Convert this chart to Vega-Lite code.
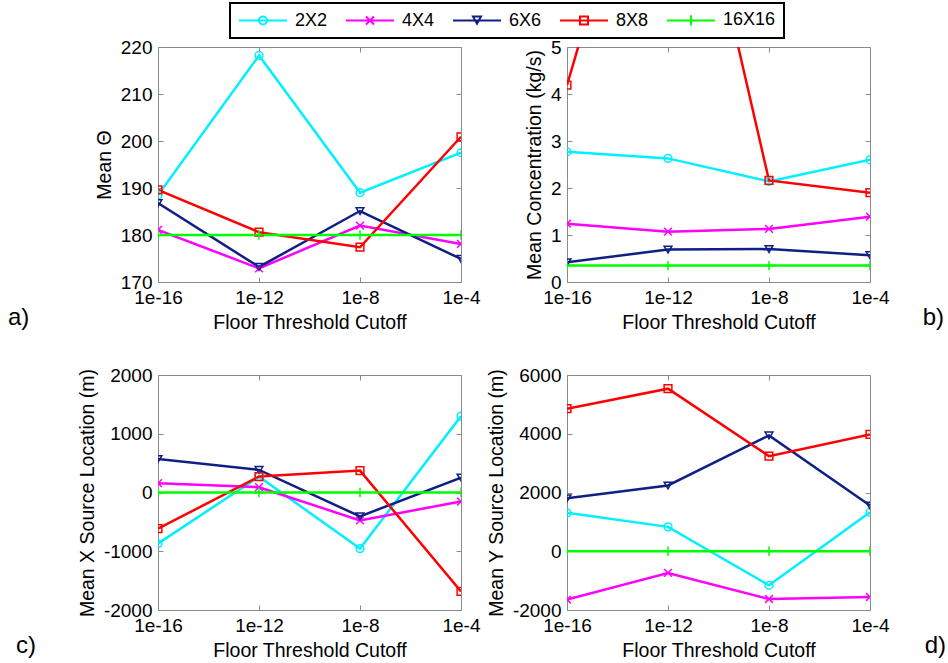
{
  "$schema": "https://vega.github.io/schema/vega-lite/v6.json",
  "background": "white",
  "padding": {"left": 7, "top": 2, "right": 3, "bottom": 10},
  "datasets": {
    "a": [
      {"series": "2X2", "cutoff": "1e-16", "value": 188.5},
      {"series": "2X2", "cutoff": "1e-12", "value": 218.2},
      {"series": "2X2", "cutoff": "1e-8", "value": 189.0},
      {"series": "2X2", "cutoff": "1e-4", "value": 197.5},
      {"series": "4X4", "cutoff": "1e-16", "value": 181.1},
      {"series": "4X4", "cutoff": "1e-12", "value": 172.9},
      {"series": "4X4", "cutoff": "1e-8", "value": 182.0},
      {"series": "4X4", "cutoff": "1e-4", "value": 178.1},
      {"series": "6X6", "cutoff": "1e-16", "value": 186.8},
      {"series": "6X6", "cutoff": "1e-12", "value": 173.2},
      {"series": "6X6", "cutoff": "1e-8", "value": 185.1},
      {"series": "6X6", "cutoff": "1e-4", "value": 174.9},
      {"series": "8X8", "cutoff": "1e-16", "value": 189.6},
      {"series": "8X8", "cutoff": "1e-12", "value": 180.6},
      {"series": "8X8", "cutoff": "1e-8", "value": 177.4},
      {"series": "8X8", "cutoff": "1e-4", "value": 200.9},
      {"series": "16X16", "cutoff": "1e-16", "value": 180},
      {"series": "16X16", "cutoff": "1e-12", "value": 180},
      {"series": "16X16", "cutoff": "1e-8", "value": 180},
      {"series": "16X16", "cutoff": "1e-4", "value": 180}
    ],
    "b": [
      {"series": "2X2", "cutoff": "1e-16", "value": 2.77},
      {"series": "2X2", "cutoff": "1e-12", "value": 2.63},
      {"series": "2X2", "cutoff": "1e-8", "value": 2.14},
      {"series": "2X2", "cutoff": "1e-4", "value": 2.60},
      {"series": "4X4", "cutoff": "1e-16", "value": 1.24},
      {"series": "4X4", "cutoff": "1e-12", "value": 1.07},
      {"series": "4X4", "cutoff": "1e-8", "value": 1.13},
      {"series": "4X4", "cutoff": "1e-4", "value": 1.39},
      {"series": "6X6", "cutoff": "1e-16", "value": 0.42},
      {"series": "6X6", "cutoff": "1e-12", "value": 0.69},
      {"series": "6X6", "cutoff": "1e-8", "value": 0.70},
      {"series": "6X6", "cutoff": "1e-4", "value": 0.57},
      {"series": "8X8", "cutoff": "1e-16", "value": 4.19},
      {"series": "8X8", "cutoff": "1e-12", "value": 11.5},
      {"series": "8X8", "cutoff": "1e-8", "value": 2.16},
      {"series": "8X8", "cutoff": "1e-4", "value": 1.90},
      {"series": "16X16", "cutoff": "1e-16", "value": 0.35},
      {"series": "16X16", "cutoff": "1e-12", "value": 0.35},
      {"series": "16X16", "cutoff": "1e-8", "value": 0.35},
      {"series": "16X16", "cutoff": "1e-4", "value": 0.35}
    ],
    "c": [
      {"series": "2X2", "cutoff": "1e-16", "value": -870},
      {"series": "2X2", "cutoff": "1e-12", "value": 270},
      {"series": "2X2", "cutoff": "1e-8", "value": -955},
      {"series": "2X2", "cutoff": "1e-4", "value": 1300},
      {"series": "4X4", "cutoff": "1e-16", "value": 158},
      {"series": "4X4", "cutoff": "1e-12", "value": 90},
      {"series": "4X4", "cutoff": "1e-8", "value": -475},
      {"series": "4X4", "cutoff": "1e-4", "value": -153},
      {"series": "6X6", "cutoff": "1e-16", "value": 570},
      {"series": "6X6", "cutoff": "1e-12", "value": 384},
      {"series": "6X6", "cutoff": "1e-8", "value": -407},
      {"series": "6X6", "cutoff": "1e-4", "value": 254},
      {"series": "8X8", "cutoff": "1e-16", "value": -616},
      {"series": "8X8", "cutoff": "1e-12", "value": 271},
      {"series": "8X8", "cutoff": "1e-8", "value": 373},
      {"series": "8X8", "cutoff": "1e-4", "value": -1684},
      {"series": "16X16", "cutoff": "1e-16", "value": 0},
      {"series": "16X16", "cutoff": "1e-12", "value": 0},
      {"series": "16X16", "cutoff": "1e-8", "value": 0},
      {"series": "16X16", "cutoff": "1e-4", "value": 0}
    ],
    "d": [
      {"series": "2X2", "cutoff": "1e-16", "value": 1307},
      {"series": "2X2", "cutoff": "1e-12", "value": 830},
      {"series": "2X2", "cutoff": "1e-8", "value": -1159},
      {"series": "2X2", "cutoff": "1e-4", "value": 1330},
      {"series": "4X4", "cutoff": "1e-16", "value": -1648},
      {"series": "4X4", "cutoff": "1e-12", "value": -739},
      {"series": "4X4", "cutoff": "1e-8", "value": -1625},
      {"series": "4X4", "cutoff": "1e-4", "value": -1557},
      {"series": "6X6", "cutoff": "1e-16", "value": 1800},
      {"series": "6X6", "cutoff": "1e-12", "value": 2239},
      {"series": "6X6", "cutoff": "1e-8", "value": 3943},
      {"series": "6X6", "cutoff": "1e-4", "value": 1557},
      {"series": "8X8", "cutoff": "1e-16", "value": 4852},
      {"series": "8X8", "cutoff": "1e-12", "value": 5534},
      {"series": "8X8", "cutoff": "1e-8", "value": 3239},
      {"series": "8X8", "cutoff": "1e-4", "value": 3977},
      {"series": "16X16", "cutoff": "1e-16", "value": 0},
      {"series": "16X16", "cutoff": "1e-12", "value": 0},
      {"series": "16X16", "cutoff": "1e-8", "value": 0},
      {"series": "16X16", "cutoff": "1e-4", "value": 0}
    ]
  },
  "config": {
    "font": "Liberation Sans",
    "view": {"stroke": "#8a8a8a", "strokeWidth": 1},
    "axis": {
      "grid": false,
      "domain": false,
      "tickColor": "#8a8a8a",
      "tickSize": -5,
      "labelPadding": 11,
      "labelFont": "Liberation Sans",
      "labelFontSize": 19,
      "labelColor": "black",
      "labelOverlap": false,
      "labelBound": false,
      "labelFlush": false,
      "titleFont": "Liberation Sans",
      "titleFontSize": 19.5,
      "titleFontWeight": "normal",
      "titleColor": "black",
      "titlePadding": 6
    },
    "title": {"font": "Liberation Sans", "fontSize": 24, "fontWeight": "normal", "color": "black", "orient": "bottom", "frame": "group"}
  },
  "columns": 2,
  "bounds": "flush",
  "spacing": {"row": 93, "column": 106},
  "concat": [
    {
      "width": 303, "height": 235,
      "data": {"name": "a"},
      "title": {"text": "a)", "anchor": "start", "dx": -150, "dy": -30},
      "layer": [
        {
          "mark": {"type": "line", "strokeWidth": 2.5, "clip": true},
          "encoding": {
            "x": {"field": "cutoff", "type": "ordinal", "sort": ["1e-16", "1e-12", "1e-8", "1e-4"], "scale": {"type": "point", "padding": 0}, "axis": {"title": "Floor Threshold Cutoff", "labelAngle": 0}},
            "y": {"field": "value", "type": "quantitative", "scale": {"domain": [170, 220], "nice": false, "zero": false}, "axis": {"title": "Mean Θ", "values": [170, 180, 190, 200, 210, 220], "labelExpr": "'' + datum.value"}},
            "color": {"field": "series", "type": "nominal", "sort": ["2X2", "4X4", "6X6", "8X8", "16X16"],
              "scale": {"domain": ["2X2", "4X4", "6X6", "8X8", "16X16"], "range": ["#00f0ff", "#ff00ff", "#0f1f85", "#ff0000", "#00ff00"]},
              "legend": {
                "orient": "none", "legendX": 72, "legendY": -44, "direction": "horizontal", "columns": 5, "title": null,
                "strokeColor": "black", "fillColor": "white", "padding": 8, "columnPadding": 14,
                "labelFont": "Liberation Sans", "labelFontSize": 18, "labelColor": "black", "labelOffset": 39,
                "symbolSize": 64, "symbolStrokeWidth": 2, "symbolFillColor": "transparent",
                "encode": {
                  "legend": {"update": {"strokeWidth": {"value": 2}}},
                  "symbols": {"update": {
                    "size": {"value": 64},
                    "fill": {"value": "transparent"},
                    "shape": {"signal": "datum.value === '2X2' ? 'M-2,0H10M5,0A1,1 0 1,1 3,0A1,1 0 1,1 5,0' : datum.value === '4X4' ? 'M-2,0H10M3,-1L5,1M3,1L5,-1' : datum.value === '6X6' ? 'M-2,0H10M3,-1L5,-1L4,0.8Z' : datum.value === '8X8' ? 'M-2,0H10M3,-1H5V1H3Z' : 'M-2,0H10M4,-1.3V1.3'"}
                  }}
                }
              }
            }
          }
        },
        {
          "mark": {"type": "point", "filled": false, "size": 60, "strokeWidth": 1.5, "opacity": 1, "clip": true},
          "encoding": {
            "x": {"field": "cutoff", "type": "ordinal", "sort": ["1e-16", "1e-12", "1e-8", "1e-4"], "scale": {"type": "point", "padding": 0}, "axis": {"orient": "top", "labels": false, "title": null}},
            "y": {"field": "value", "type": "quantitative", "scale": {"domain": [170, 220], "nice": false, "zero": false}, "axis": {"orient": "right", "labels": false, "title": null, "values": [170, 180, 190, 200, 210, 220]}},
            "color": {"field": "series", "type": "nominal", "sort": ["2X2", "4X4", "6X6", "8X8", "16X16"]},
            "shape": {"condition": [
              {"test": "datum.series === '4X4'", "value": "M-1,-1L1,1M-1,1L1,-1"},
              {"test": "datum.series === '6X6'", "value": "triangle-down"},
              {"test": "datum.series === '8X8'", "value": "square"},
              {"test": "datum.series === '16X16'", "value": "M-1.2,0H1.2M0,-1.2V1.2"}
            ], "value": "circle"}
          }
        }
      ],
      "resolve": {"axis": {"x": "independent", "y": "independent"}}
    },
    {
      "width": 303, "height": 235,
      "data": {"name": "b"},
      "title": {"text": "b)", "anchor": "end", "dx": 74, "dy": -30},
      "layer": [
        {
          "mark": {"type": "line", "strokeWidth": 2.5, "clip": true},
          "encoding": {
            "x": {"field": "cutoff", "type": "ordinal", "sort": ["1e-16", "1e-12", "1e-8", "1e-4"], "scale": {"type": "point", "padding": 0}, "axis": {"title": "Floor Threshold Cutoff", "labelAngle": 0}},
            "y": {"field": "value", "type": "quantitative", "scale": {"domain": [0, 5], "nice": false, "zero": false}, "axis": {"title": "Mean Concentration (kg/s)", "values": [0, 1, 2, 3, 4, 5], "labelExpr": "'' + datum.value"}},
            "color": {"field": "series", "type": "nominal", "sort": ["2X2", "4X4", "6X6", "8X8", "16X16"]}
          }
        },
        {
          "mark": {"type": "point", "filled": false, "size": 60, "strokeWidth": 1.5, "opacity": 1, "clip": true},
          "encoding": {
            "x": {"field": "cutoff", "type": "ordinal", "sort": ["1e-16", "1e-12", "1e-8", "1e-4"], "scale": {"type": "point", "padding": 0}, "axis": {"orient": "top", "labels": false, "title": null}},
            "y": {"field": "value", "type": "quantitative", "scale": {"domain": [0, 5], "nice": false, "zero": false}, "axis": {"orient": "right", "labels": false, "title": null, "values": [0, 1, 2, 3, 4, 5]}},
            "color": {"field": "series", "type": "nominal", "sort": ["2X2", "4X4", "6X6", "8X8", "16X16"]},
            "shape": {"condition": [
              {"test": "datum.series === '4X4'", "value": "M-1,-1L1,1M-1,1L1,-1"},
              {"test": "datum.series === '6X6'", "value": "triangle-down"},
              {"test": "datum.series === '8X8'", "value": "square"},
              {"test": "datum.series === '16X16'", "value": "M-1.2,0H1.2M0,-1.2V1.2"}
            ], "value": "circle"}
          }
        }
      ],
      "resolve": {"axis": {"x": "independent", "y": "independent"}}
    },
    {
      "width": 303, "height": 235,
      "data": {"name": "c"},
      "title": {"text": "c)", "anchor": "start", "dx": -142, "dy": -30},
      "layer": [
        {
          "mark": {"type": "line", "strokeWidth": 2.5, "clip": true},
          "encoding": {
            "x": {"field": "cutoff", "type": "ordinal", "sort": ["1e-16", "1e-12", "1e-8", "1e-4"], "scale": {"type": "point", "padding": 0}, "axis": {"title": "Floor Threshold Cutoff", "labelAngle": 0}},
            "y": {"field": "value", "type": "quantitative", "scale": {"domain": [-2000, 2000], "nice": false, "zero": false}, "axis": {"title": "Mean X Source Location (m)", "values": [-2000, -1000, 0, 1000, 2000], "labelExpr": "'' + datum.value"}},
            "color": {"field": "series", "type": "nominal", "sort": ["2X2", "4X4", "6X6", "8X8", "16X16"]}
          }
        },
        {
          "mark": {"type": "point", "filled": false, "size": 60, "strokeWidth": 1.5, "opacity": 1, "clip": true},
          "encoding": {
            "x": {"field": "cutoff", "type": "ordinal", "sort": ["1e-16", "1e-12", "1e-8", "1e-4"], "scale": {"type": "point", "padding": 0}, "axis": {"orient": "top", "labels": false, "title": null}},
            "y": {"field": "value", "type": "quantitative", "scale": {"domain": [-2000, 2000], "nice": false, "zero": false}, "axis": {"orient": "right", "labels": false, "title": null, "values": [-2000, -1000, 0, 1000, 2000]}},
            "color": {"field": "series", "type": "nominal", "sort": ["2X2", "4X4", "6X6", "8X8", "16X16"]},
            "shape": {"condition": [
              {"test": "datum.series === '4X4'", "value": "M-1,-1L1,1M-1,1L1,-1"},
              {"test": "datum.series === '6X6'", "value": "triangle-down"},
              {"test": "datum.series === '8X8'", "value": "square"},
              {"test": "datum.series === '16X16'", "value": "M-1.2,0H1.2M0,-1.2V1.2"}
            ], "value": "circle"}
          }
        }
      ],
      "resolve": {"axis": {"x": "independent", "y": "independent"}}
    },
    {
      "width": 303, "height": 235,
      "data": {"name": "d"},
      "title": {"text": "d)", "anchor": "end", "dx": 76, "dy": -30},
      "layer": [
        {
          "mark": {"type": "line", "strokeWidth": 2.5, "clip": true},
          "encoding": {
            "x": {"field": "cutoff", "type": "ordinal", "sort": ["1e-16", "1e-12", "1e-8", "1e-4"], "scale": {"type": "point", "padding": 0}, "axis": {"title": "Floor Threshold Cutoff", "labelAngle": 0}},
            "y": {"field": "value", "type": "quantitative", "scale": {"domain": [-2000, 6000], "nice": false, "zero": false}, "axis": {"title": "Mean Y Source Location (m)", "values": [-2000, 0, 2000, 4000, 6000], "labelExpr": "'' + datum.value"}},
            "color": {"field": "series", "type": "nominal", "sort": ["2X2", "4X4", "6X6", "8X8", "16X16"]}
          }
        },
        {
          "mark": {"type": "point", "filled": false, "size": 60, "strokeWidth": 1.5, "opacity": 1, "clip": true},
          "encoding": {
            "x": {"field": "cutoff", "type": "ordinal", "sort": ["1e-16", "1e-12", "1e-8", "1e-4"], "scale": {"type": "point", "padding": 0}, "axis": {"orient": "top", "labels": false, "title": null}},
            "y": {"field": "value", "type": "quantitative", "scale": {"domain": [-2000, 6000], "nice": false, "zero": false}, "axis": {"orient": "right", "labels": false, "title": null, "values": [-2000, 0, 2000, 4000, 6000]}},
            "color": {"field": "series", "type": "nominal", "sort": ["2X2", "4X4", "6X6", "8X8", "16X16"]},
            "shape": {"condition": [
              {"test": "datum.series === '4X4'", "value": "M-1,-1L1,1M-1,1L1,-1"},
              {"test": "datum.series === '6X6'", "value": "triangle-down"},
              {"test": "datum.series === '8X8'", "value": "square"},
              {"test": "datum.series === '16X16'", "value": "M-1.2,0H1.2M0,-1.2V1.2"}
            ], "value": "circle"}
          }
        }
      ],
      "resolve": {"axis": {"x": "independent", "y": "independent"}}
    }
  ]
}
